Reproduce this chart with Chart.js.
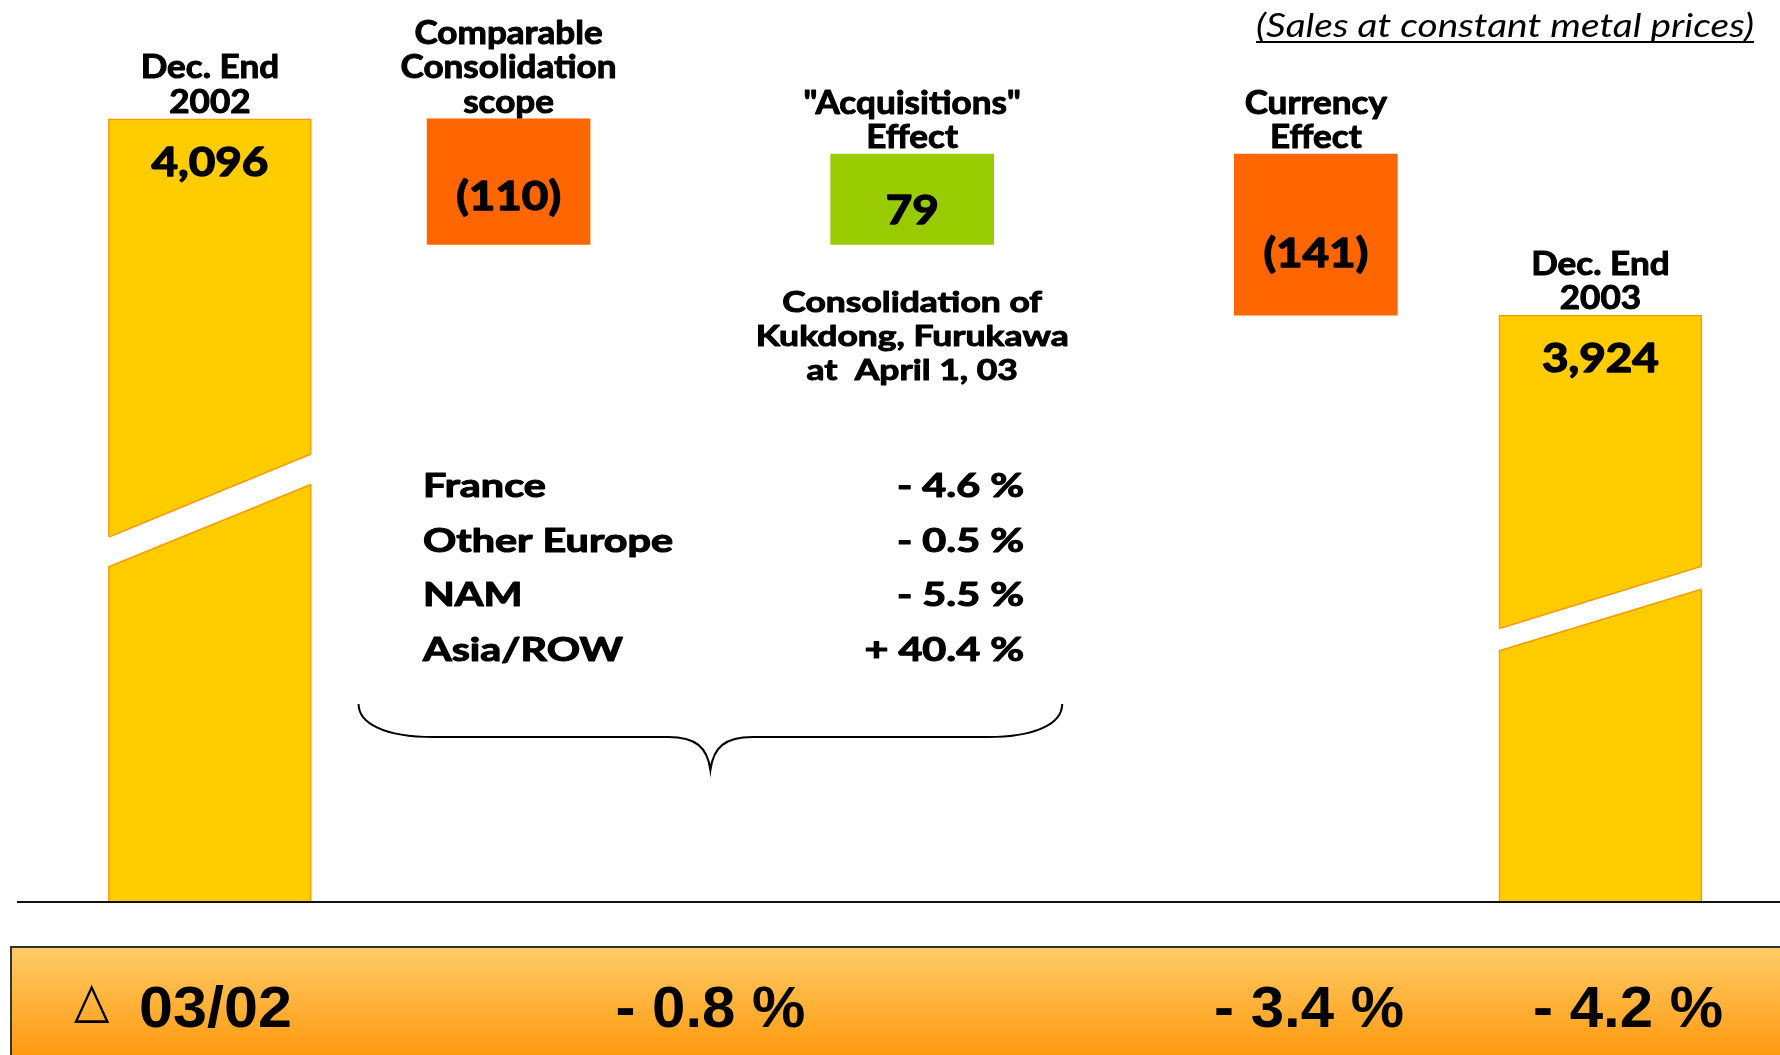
<!DOCTYPE html>
<html>
<head>
<meta charset="utf-8">
<script src="https://cdn.jsdelivr.net/npm/chart.js@4.4.0/dist/chart.umd.min.js"></script>
<style>
  html, body { margin: 0; padding: 0; background: #fff; }
  canvas { display: block; }
</style>
</head>
<body>
<canvas id="bridgeChart" width="1780" height="1055"></canvas>
<script>
// sales bridge Dec 2002 -> Dec 2003
const categories = [
    ["Dec. End", "2002"],
    ["Comparable", "Consolidation", "scope"],
    ["\"Acquisitions\"", "Effect"],
    ["Currency", "Effect"],
    ["Dec. End", "2003"]
];
const openingSales = 4096;
const changes = [-110, 79, -141];
const closingSales = 3924;
const valueLabels = ["4,096", "(110)", "79", "(141)", "3,924"];

const regions = ["France", "Other Europe", "NAM", "Asia/ROW"];
const regionGrowth = ["- 4.6 %", "- 0.5 %", "- 5.5 %", "+ 40.4 %"];
const acquisitionNote = ["Consolidation of", "Kukdong, Furukawa", "at  April 1, 03"];

const deltaLabel = "03/02";
const deltaValues = ["- 0.8 %", "- 3.4 %", "- 4.2 %"];
const subtitle = "(Sales at constant metal prices)";

// waterfall ranges for the middle bars
let running = openingSales;
const changeRanges = changes.map(function (c) {
    const from = running;
    running += c;
    return [Math.min(from, running), Math.max(from, running)];
});

// where each category sits on the x axis (slide is not evenly spaced)
const xSlots = [0.26, 1, 2, 3, 3.705];

const FUT = "Lato, 'DejaVu Sans', sans-serif";

function fitScale(ctx, font, text, width) {
    ctx.font = font;
    return width / ctx.measureText(text).width;
}

function drawLines(ctx, lines, x, y, lh, font, sx, align, heavy) {
    ctx.save();
    ctx.font = font;
    ctx.fillStyle = "#000";
    ctx.strokeStyle = "#000";
    ctx.lineWidth = heavy || 0;
    ctx.lineJoin = "round";
    ctx.textAlign = align || "center";
    ctx.textBaseline = "alphabetic";
    ctx.translate(x, y);
    ctx.scale(sx, 1);
    lines.forEach(function (t, i) {
        ctx.fillText(t, 0, i * lh);
        if (heavy) ctx.strokeText(t, 0, i * lh);
    });
    ctx.restore();
}

function barBox(chart, b) {
    const bottom = Math.min(Math.max(b.y, b.base), chart.chartArea.bottom);
    const top = Math.min(b.y, b.base);
    return { top: top, bottom: bottom, h: bottom - top, L: b.x - b.width / 2, R: b.x + b.width / 2 };
}

const slidePlugin = {
    id: "slide",
    afterDatasetsDraw(chart) {
        const ctx = chart.ctx;
        const totals = chart.getDatasetMeta(0).data;
        const steps = chart.getDatasetMeta(1).data;
        const bars = [totals[0], steps[0], steps[1], steps[2], totals[1]];
        const yBottom = chart.chartArea.bottom;

        // axis break on the two total bars
        const brk = [0.534, 0.428, 0.572, 0.467];
        [totals[0], totals[1]].forEach(function (b) {
            const box = barBox(chart, b);
            const p = brk.map(function (f) { return box.top + f * box.h; });
            ctx.save();
            ctx.fillStyle = "#fff";
            ctx.beginPath();
            ctx.moveTo(box.L - 1, p[0]);
            ctx.lineTo(box.R + 1, p[1]);
            ctx.lineTo(box.R + 1, p[3]);
            ctx.lineTo(box.L - 1, p[2]);
            ctx.closePath();
            ctx.fill();
            ctx.strokeStyle = "#FF9900";
            ctx.lineWidth = 1.5;
            ctx.beginPath();
            ctx.moveTo(box.L + 0.5, p[0]); ctx.lineTo(box.R - 0.5, p[1]);
            ctx.moveTo(box.L + 0.5, p[2]); ctx.lineTo(box.R - 0.5, p[3]);
            ctx.stroke();
            ctx.restore();
        });

        // baseline
        ctx.save();
        ctx.strokeStyle = "#111";
        ctx.lineWidth = 2;
        ctx.beginPath();
        ctx.moveTo(17, yBottom);
        ctx.lineTo(chart.width, yBottom);
        ctx.stroke();
        ctx.restore();

        // category labels above bars
        const labFont = "bold 32px " + FUT;
        const labSx = fitScale(ctx, labFont, "Consolidation", 216);
        bars.forEach(function (b, i) {
            const box = barBox(chart, b);
            const lines = categories[i];
            drawLines(ctx, lines, b.x, box.top - 6 - (lines.length - 1) * 34.5, 34.5, labFont, labSx, "center", 1);
        });

        // values inside bars
        const valFont = "bold 40px " + FUT;
        const valSx = fitScale(ctx, valFont, "4,096", 117);
        bars.forEach(function (b, i) {
            const box = barBox(chart, b);
            let y;
            if (i === 0 || i === 4) {
                y = box.top + 57;
            } else {
                y = box.top + 0.6 * box.h + 16;
            }
            drawLines(ctx, [valueLabels[i]], b.x, y, 0, valFont, valSx, "center", 1.4);
        });

        // acquisition note under the green bar
        const noteFont = "bold 29px " + FUT;
        const noteSx = fitScale(ctx, noteFont, "Kukdong, Furukawa", 313);
        drawLines(ctx, acquisitionNote, bars[2].x, 312, 34, noteFont, noteSx, "center", 1);

        // regional table
        const tabFont = "bold 32px " + FUT;
        const tabSx = fitScale(ctx, tabFont, "Other Europe", 250);
        drawLines(ctx, regions, 423, 497, 54.5, tabFont, tabSx, "left", 1.1);
        drawLines(ctx, regionGrowth, 1024, 497, 54.5, tabFont, tabSx, "right", 1.1);

        // brace under bars 2 and 3
        const bL = bars[1].x - 150, bR = bars[2].x + 150, M = (bars[1].x + bars[2].x) / 2;
        const yTop = 704, yMid = 737, yTip = 770;
        ctx.save();
        ctx.strokeStyle = "#000";
        ctx.lineWidth = 2;
        ctx.beginPath();
        ctx.moveTo(bL, yTop);
        ctx.bezierCurveTo(bL, yMid - 14, bL + 25, yMid, bL + 75, yMid);
        ctx.lineTo(M - 42, yMid);
        ctx.bezierCurveTo(M - 15, yMid, M - 3, yMid + 10, M, yTip);
        ctx.bezierCurveTo(M + 3, yMid + 10, M + 15, yMid, M + 42, yMid);
        ctx.lineTo(bR - 75, yMid);
        ctx.bezierCurveTo(bR - 25, yMid, bR, yMid - 14, bR, yTop);
        ctx.stroke();
        ctx.restore();

        // subtitle top right
        const subFont = "italic 33px " + FUT;
        const subSx = fitScale(ctx, subFont, subtitle, 498);
        drawLines(ctx, [subtitle], 1754, 37, 0, subFont, subSx, "right");
        ctx.save();
        ctx.strokeStyle = "#000";
        ctx.lineWidth = 2;
        ctx.beginPath();
        ctx.moveTo(1256, 42);
        ctx.lineTo(1754, 42);
        ctx.stroke();
        ctx.restore();

        // bottom banner
        const bTop = 947;
        ctx.save();
        const grad = ctx.createLinearGradient(0, bTop, 0, chart.height);
        grad.addColorStop(0, "#FFCC66");
        grad.addColorStop(1, "#FF9A10");
        ctx.fillStyle = grad;
        ctx.fillRect(11, bTop, chart.width, chart.height - bTop);
        ctx.strokeStyle = "#333";
        ctx.lineWidth = 2;
        ctx.beginPath();
        ctx.moveTo(11, chart.height);
        ctx.lineTo(11, bTop);
        ctx.lineTo(chart.width, bTop);
        ctx.stroke();
        ctx.restore();

        const banFont = "bold 58px 'Liberation Sans', Arial, sans-serif";
        const banSx = fitScale(ctx, banFont, deltaValues[0], 190);
        const labSx2 = fitScale(ctx, banFont, deltaLabel, 153);
        ctx.save();
        ctx.font = "46px 'DejaVu Sans'";
        ctx.fillStyle = "#000";
        ctx.textAlign = "left";
        ctx.translate(74, 1016.5);
        ctx.scale(1, 1.09);
        ctx.fillText("\u25B3", 0, 0);
        ctx.restore();
        drawLines(ctx, [deltaLabel], 139, 1027, 0, banFont, labSx2, "left");
        drawLines(ctx, [deltaValues[0]], M, 1027, 0, banFont, banSx);
        drawLines(ctx, [deltaValues[1]], 1309, 1027, 0, banFont, banSx);
        drawLines(ctx, [deltaValues[2]], 1628, 1027, 0, banFont, banSx);
    }
};

const ctx = document.getElementById("bridgeChart").getContext("2d");

new Chart(ctx, {
    type: "bar",
    data: {
        datasets: [{
            label: "Sales",
            data: [
                { x: xSlots[0], y: openingSales },
                { x: xSlots[4], y: closingSales }
            ],
            backgroundColor: "#FFCC00",
            borderColor: "#FF9900",
            borderWidth: 1.5,
            borderSkipped: "bottom",
            barThickness: 203,
            grouped: false
        }, {
            label: "Change",
            data: changeRanges.map(function (r, i) {
                return { x: xSlots[i + 1], y: r };
            }),
            backgroundColor: ["#FF6600", "#99CC00", "#FF6600"],
            borderWidth: 0,
            barThickness: 163,
            grouped: false
        }]
    },
    options: {
        responsive: false,
        animation: false,
        devicePixelRatio: 1,
        layout: {
            padding: { top: 0, left: 0, right: 0, bottom: 153 }
        },
        plugins: {
            legend: { display: false },
            tooltip: { enabled: false }
        },
        scales: {
            x: {
                type: "linear",
                min: -0.26,
                max: 4.15,
                offset: false,
                display: false
            },
            y: {
                min: 3410,
                max: 4200,
                display: false
            }
        }
    },
    plugins: [slidePlugin]
});
</script>
</body>
</html>
